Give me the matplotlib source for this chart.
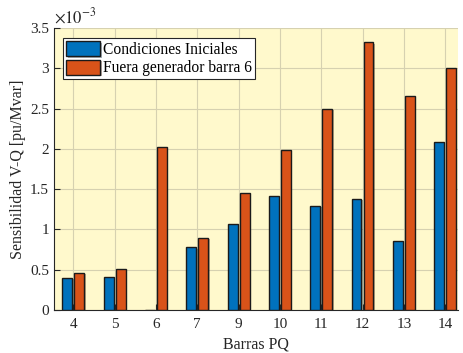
import numpy as np
import matplotlib
matplotlib.use("Agg")
import matplotlib.pyplot as plt
import matplotlib.patheffects as pe

# Sensibilidad V-Q por barra PQ (x 1e-3 pu/Mvar)
barras = ["4", "5", "6", "7", "9", "10", "11", "12", "13", "14"]
cond_iniciales = [0.40, 0.415, 0.005, 0.78, 1.07, 1.41, 1.295, 1.38, 0.86, 2.09]
fuera_gen6 = [0.465, 0.51, 2.02, 0.895, 1.45, 1.99, 2.50, 3.32, 2.65, 3.00]

plt.rcParams["font.family"] = ["Liberation Serif", "DejaVu Serif"]
plt.rcParams["mathtext.fontset"] = "stix"

fig = plt.figure(figsize=(4.63, 3.53), dpi=100)
ax = fig.add_axes([0.1166, 0.1218, 0.8724, 0.7989])
ax.set_facecolor("#FFF9CC")

x = np.arange(len(barras))
w = 0.24
off = 0.145
shadow = [pe.SimplePatchShadow(offset=(1, -1), alpha=0.35), pe.Normal()]
b1 = ax.bar(x - off, cond_iniciales, w, color="#0072BD", edgecolor="#1a1a1a",
            linewidth=1.0, label="Condiciones Iniciales", zorder=3)
b2 = ax.bar(x + off, fuera_gen6, w, color="#D95319", edgecolor="#1a1a1a",
            linewidth=1.0, label="Fuera generador barra 6", zorder=3)
for b in list(b1) + list(b2):
    b.set_path_effects(shadow)

ax.set_xlim(-0.47, 9.31)
ax.set_ylim(0, 3.5)
ax.set_xticks(x)
ax.set_xticklabels(barras)
ax.set_yticks(np.arange(0, 3.51, 0.5))
ax.set_yticklabels(["0", "0.5", "1", "1.5", "2", "2.5", "3", "3.5"])
ax.tick_params(direction="in", length=4, labelsize=11, width=0.8, colors="#262626")
ax.tick_params(axis="x", pad=6)

ax.grid(True, color="#d6d1b0", linewidth=0.8, zorder=0)
ax.set_axisbelow(True)
for s in ("top", "right"):
    ax.spines[s].set_visible(False)
for s in ("left", "bottom"):
    ax.spines[s].set_color("#262626")
    ax.spines[s].set_linewidth(0.8)

ax.set_xlabel("Barras PQ", fontsize=11.5, color="#262626", labelpad=4)
ax.set_ylabel("Sensibilidad V-Q [pu/Mvar]", fontsize=11.5, color="#262626", labelpad=3)
ax.text(0.0, 1.005, r"$\times10^{-3}$", transform=ax.transAxes, fontsize=12,
        color="#262626", ha="left", va="bottom")

leg = ax.legend(loc="upper left", bbox_to_anchor=(0.015, 0.975), fontsize=11.2,
                frameon=True, fancybox=False, edgecolor="#262626",
                borderpad=0.2, handlelength=2.2, handleheight=1.1,
                handletextpad=0.15, labelspacing=0.1, borderaxespad=0.2)
leg.get_frame().set_linewidth(0.8)
leg.get_frame().set_facecolor("white")
leg.get_frame().set_alpha(1)

fig.savefig("out.png", dpi=100)
